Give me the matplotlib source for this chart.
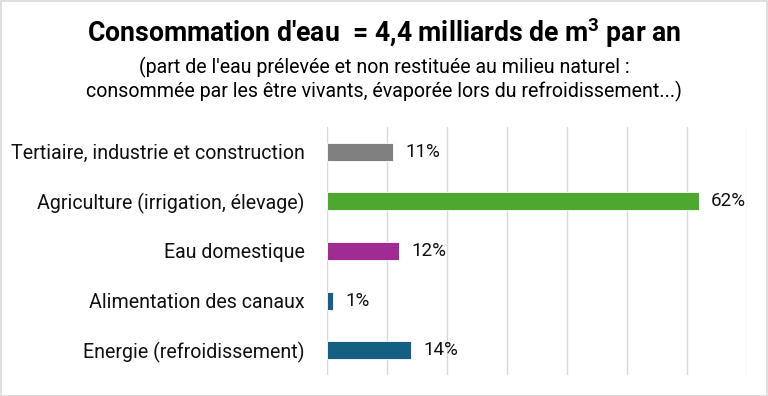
import matplotlib
matplotlib.use('Agg')
import matplotlib.pyplot as plt
from matplotlib.patches import Rectangle

categories = ['Tertiaire, industrie et construction',
              'Agriculture (irrigation, élevage)',
              'Eau domestique',
              'Alimentation des canaux',
              'Energie (refroidissement)']
values = [11, 62, 12, 1, 14]
colors = ['#808080', '#4EA72E', '#A02B93', '#156082', '#156082']

plt.rcParams['font.family'] = ['Roboto', 'DejaVu Sans']

fig = plt.figure(figsize=(7.68, 3.96), dpi=100)
ax = fig.add_axes([327/768, 1 - 375/396, (747 - 327)/768, (375 - 127)/396])

y = list(range(len(categories)))
ax.barh(y, values, height=0.36, color=colors, edgecolor='white', linewidth=0.6, zorder=3)
for yi, v in zip(y, values):
    ax.text(v + 2.0, yi, '{}%'.format(v), va='center', ha='left', fontsize=13.5,
            color='#111111')

ax.set_xlim(0, 70)
ax.set_ylim(len(categories) - 0.5, -0.5)
ax.set_xticks(range(0, 71, 10))
ax.set_xticklabels([])
ax.set_yticks(y)
ax.set_yticklabels(categories, fontsize=14.1, color='#111111')
ax.tick_params(length=0, pad=16)
ax.grid(axis='x', color='#D9D9D9', linewidth=1, zorder=0)
for s in ax.spines.values():
    s.set_visible(False)

fig.text(0.5, 1 - 33/396, "Consommation d'eau  = 4,4 milliards de m$^{\\mathregular{3}}$ par an",
         ha='center', va='center', fontsize=19.2, fontweight='bold', color='black')
fig.text(0.5, 1 - 67/396, "(part de l'eau prélevée et non restituée au milieu naturel :",
         ha='center', va='center', fontsize=14.1, color='black')
fig.text(0.5, 1 - 91/396, "consommée par les être vivants, évaporée lors du refroidissement...)",
         ha='center', va='center', fontsize=14.1, color='black')

fig.patches.append(Rectangle((0.001, 0.001), 0.998, 0.997, transform=fig.transFigure,
                             fill=False, edgecolor='#D9D9D9', linewidth=1.2))

fig.savefig('out.png', dpi=100)
